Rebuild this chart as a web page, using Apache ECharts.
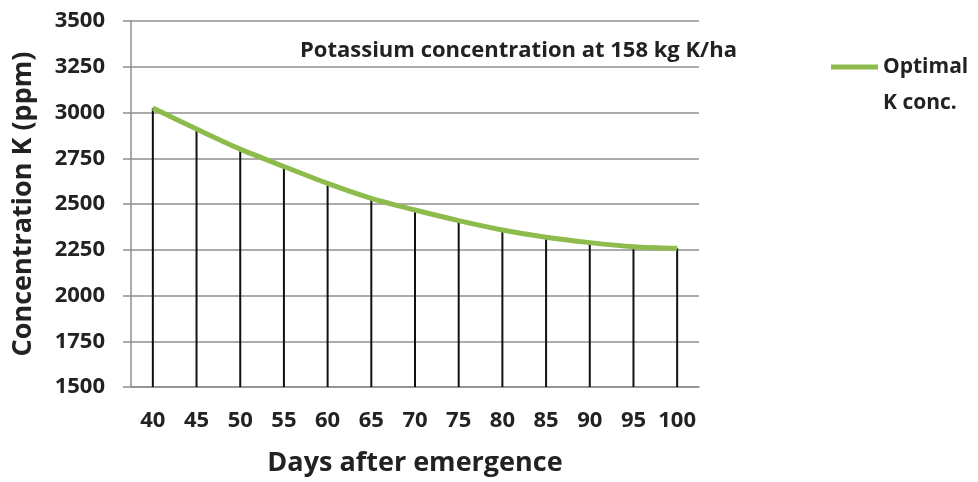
<!DOCTYPE html>
<html>
<head>
<meta charset="utf-8">
<script src="https://cdn.jsdelivr.net/npm/echarts@6/dist/echarts.min.js"></script>
<style>html,body{margin:0;padding:0;background:#fff}#c{width:978px;height:482px}</style>
</head>
<body>
<div id="c"></div>
<script>
const days = ['40','45','50','55','60','65','70','75','80','85','90','95','100'];
const optimalK = [3025, 2910, 2800, 2705, 2613, 2531, 2467, 2409, 2358, 2318, 2289, 2267, 2258];
const yTicks = [1500, 3500, 250];
const titleText = 'Potassium concentration at 158 kg K/ha';
const seriesName = 'Optimal K conc.';

const FONT = 'Open Sans';
const chart = echarts.init(document.getElementById('c'));
chart.setOption({
  animation: false,
  backgroundColor: '#fff',
  title: {
    text: titleText,
    left: 295, top: 35,
    textStyle: {fontFamily: FONT, fontSize: 22, fontWeight: 'bold', color: '#222'}
  },
  legend: {
    data: [{name: seriesName, icon: 'rect'}],
    left: 831, top: 13, padding: 0,
    itemWidth: 47, itemHeight: 5, itemGap: 4,
    formatter: () => ' \nOptimal\nK conc.',
    textStyle: {fontFamily: FONT, fontSize: 21, fontWeight: 'bold', color: '#222', lineHeight: 36}
  },
  grid: {left: 131, right: 279, top: 21, bottom: 95, containLabel: false},
  xAxis: {
    type: 'category',
    data: days,
    boundaryGap: true,
    name: 'Days after emergence',
    nameLocation: 'middle',
    nameGap: 63,
    nameTextStyle: {fontFamily: FONT, fontSize: 27, fontWeight: 'bold', color: '#222'},
    axisLine: {lineStyle: {color: '#8f8f8f', width: 1.5}},
    axisTick: {show: false},
    axisLabel: {fontFamily: FONT, fontSize: 22, fontWeight: 'bold', color: '#222', margin: 23, interval: 0},
    splitLine: {show: false}
  },
  yAxis: {
    type: 'value',
    min: yTicks[0], max: yTicks[1], interval: yTicks[2],
    name: 'Concentration K (ppm)',
    nameLocation: 'middle',
    nameGap: 94,
    nameTextStyle: {fontFamily: FONT, fontSize: 27, fontWeight: 'bold', color: '#222'},
    axisLine: {show: true, lineStyle: {color: '#8f8f8f', width: 1.5}},
    axisTick: {show: true, length: 8, lineStyle: {color: '#8f8f8f', width: 1.5}},
    axisLabel: {fontFamily: FONT, fontSize: 22, fontWeight: 'bold', color: '#222', margin: 26, formatter: v => String(v)},
    splitLine: {show: true, lineStyle: {color: '#8f8f8f', width: 1.5}}
  },
  series: [
    {
      name: 'drop',
      type: 'bar',
      data: optimalK,
      barWidth: 2,
      clip: true,
      itemStyle: {color: '#111'},
      z: 2,
      silent: true
    },
    {
      name: seriesName,
      type: 'line',
      data: optimalK,
      smooth: 0.3,
      showSymbol: false,
      lineStyle: {color: '#8DBB4C', width: 5},
      itemStyle: {color: '#8DBB4C'},
      z: 3
    }
  ]
});
</script>
</body>
</html>
